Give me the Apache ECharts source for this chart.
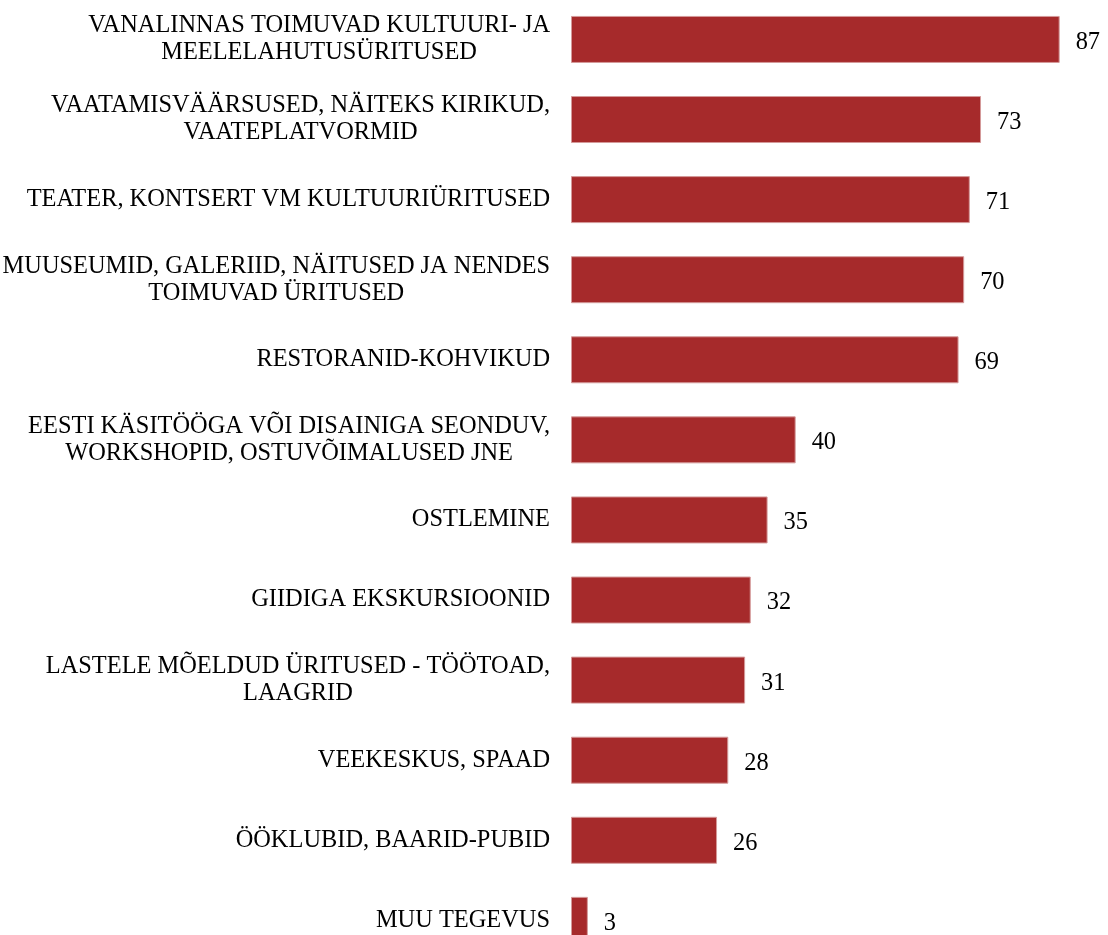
<!DOCTYPE html>
<html>
<head>
<meta charset="utf-8">
<script src="https://cdn.jsdelivr.net/npm/echarts@6/dist/echarts.min.js"></script>
<style>
html,body{margin:0;padding:0;background:#fff;}
#chart{width:1108px;height:935px;}
</style>
</head>
<body>
<div id="chart"></div>
<script>
var categories = [
  "VANALINNAS TOIMUVAD KULTUURI- JA\nMEELELAHUTUSÜRITUSED",
  "VAATAMISVÄÄRSUSED, NÄITEKS KIRIKUD,\nVAATEPLATVORMID",
  "TEATER, KONTSERT VM KULTUURIÜRITUSED",
  "MUUSEUMID, GALERIID, NÄITUSED JA NENDES\nTOIMUVAD ÜRITUSED",
  "RESTORANID-KOHVIKUD",
  "EESTI KÄSITÖÖGA VÕI DISAINIGA SEONDUV,\nWORKSHOPID, OSTUVÕIMALUSED JNE",
  "OSTLEMINE",
  "GIIDIGA EKSKURSIOONID",
  "LASTELE MÕELDUD ÜRITUSED - TÖÖTOAD,\nLAAGRID",
  "VEEKESKUS, SPAAD",
  "ÖÖKLUBID, BAARID-PUBID",
  "MUU TEGEVUS"
];
var values = [87, 73, 71, 70, 69, 40, 35, 32, 31, 28, 26, 3];

var chart = echarts.init(document.getElementById('chart'), null, {renderer: 'canvas'});
var font = '"Liberation Serif", "Times New Roman", serif';
chart.setOption({
  animation: false,
  backgroundColor: '#ffffff',
  grid: {left: 571, top: -0.6, right: 3.4, bottom: -25.4, containLabel: false, outerBoundsMode: 'none'},
  xAxis: {
    type: 'value', min: 0, max: 95, show: false
  },
  yAxis: {
    type: 'category',
    inverse: true,
    data: categories,
    axisLine: {show: false},
    axisTick: {show: false},
    splitLine: {show: false},
    axisLabel: {
      margin: 21,
      align: 'right',
      fontFamily: font,
      fontSize: 24.4,
      color: '#000',
      lineHeight: 27,
      formatter: function (v) {
        return v.split('\n').map(function (s) { return '{c|' + s + '}'; }).join('\n');
      },
      rich: {
        c: {align: 'center', fontFamily: font, fontSize: 24.4, color: '#000', lineHeight: 27}
      }
    }
  },
  series: [{
    type: 'bar',
    data: values,
    barWidth: 47,
    itemStyle: {color: '#a62a2b', borderColor: '#d49a9a', borderWidth: 1},
    label: {
      show: true,
      position: 'right',
      distance: 16,
      offset: [0, 3],
      fontFamily: font,
      fontSize: 24.4,
      color: '#000'
    }
  }]
});
</script>
</body>
</html>
